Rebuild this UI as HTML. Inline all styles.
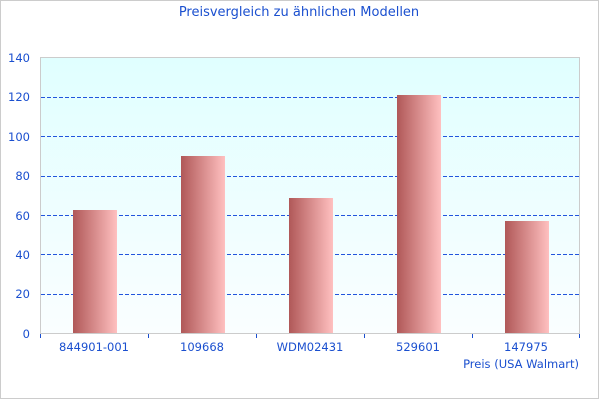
<!DOCTYPE html><html><head><style>body{margin:0}svg{display:block}text{font-family:"DejaVu Sans",sans-serif;fill:#1a4fcf}</style></head><body>
<svg width="600" height="400" xmlns="http://www.w3.org/2000/svg">
<defs><linearGradient id="g" x1="0" x2="1" y1="0" y2="0"><stop offset="0" stop-color="#b05858"/><stop offset="1" stop-color="#ffc0c0"/></linearGradient>
<linearGradient id="bg" x1="0" x2="0" y1="0" y2="1"><stop offset="0" stop-color="#e0ffff"/><stop offset="1" stop-color="#fafeff"/></linearGradient></defs>
<rect x="0.5" y="0.5" width="598" height="398" fill="#fff" stroke="#ccc"/>
<text x="299" y="16" font-size="13" text-anchor="middle">Preisvergleich zu ähnlichen Modellen</text>
<rect x="40.5" y="57.5" width="539" height="276" fill="url(#bg)" stroke="#ccc"/>
<g stroke="#2255dd" stroke-dasharray="4,2" stroke-width="1">
<line x1="41" x2="579" y1="97.5" y2="97.5"/><line x1="41" x2="579" y1="136.5" y2="136.5"/><line x1="41" x2="579" y1="176.5" y2="176.5"/><line x1="41" x2="579" y1="215.5" y2="215.5"/><line x1="41" x2="579" y1="254.5" y2="254.5"/><line x1="41" x2="579" y1="294.5" y2="294.5"/></g>
<g fill="url(#g)">
<rect x="73" y="210" width="44" height="123"/><rect x="181" y="156" width="44" height="177"/><rect x="289" y="198" width="44" height="135"/><rect x="397" y="95" width="44" height="238"/><rect x="505" y="221" width="44" height="112"/></g>
<line x1="40" x2="580" y1="333.5" y2="333.5" stroke="#ccc"/>
<g stroke="#1a4fcf"><line x1="40.5" x2="40.5" y1="334" y2="338"/><line x1="148.5" x2="148.5" y1="334" y2="338"/><line x1="256.5" x2="256.5" y1="334" y2="338"/><line x1="364.5" x2="364.5" y1="334" y2="338"/><line x1="472.5" x2="472.5" y1="334" y2="338"/><line x1="579.5" x2="579.5" y1="334" y2="338"/></g>
<g font-size="11.5" text-anchor="end"><text x="30" y="62">140</text><text x="30" y="101">120</text><text x="30" y="141">100</text><text x="30" y="180">80</text><text x="30" y="220">60</text><text x="30" y="259">40</text><text x="30" y="298">20</text><text x="30" y="338">0</text></g>
<g font-size="11.5" text-anchor="middle"><text x="94" y="351">844901-001</text><text x="202" y="351">109668</text><text x="310" y="351">WDM02431</text><text x="418" y="351">529601</text><text x="526" y="351">147975</text></g>
<text x="579" y="368" font-size="11.5" text-anchor="end">Preis (USA Walmart)</text>
</svg></body></html>
